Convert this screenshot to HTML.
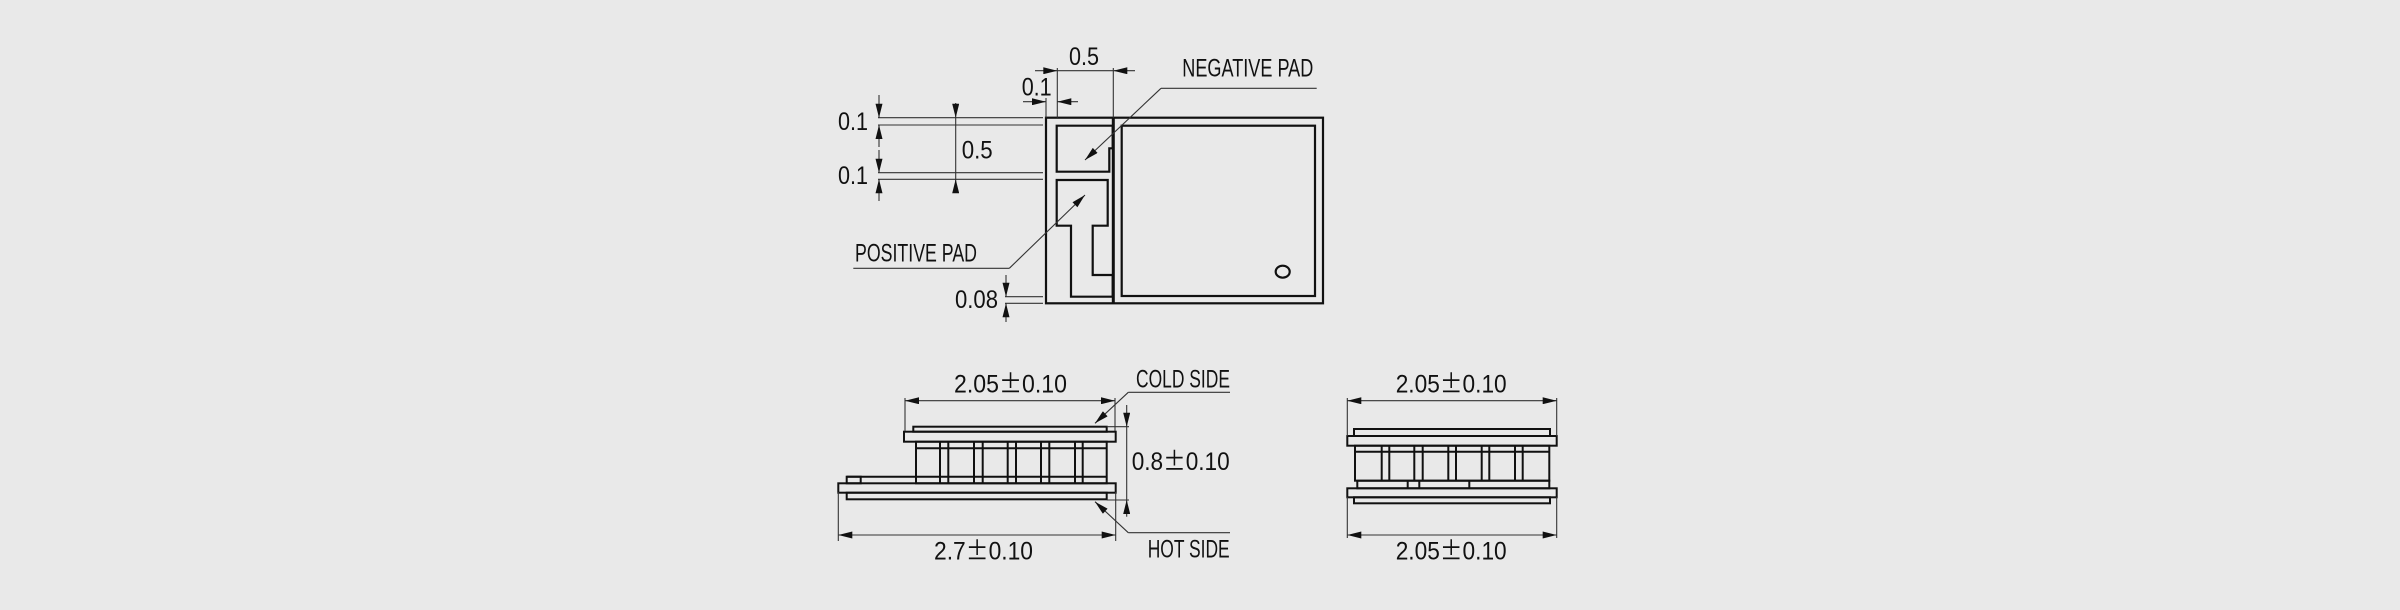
<!DOCTYPE html>
<html><head><meta charset="utf-8"><style>
html,body{margin:0;padding:0;background:#e9e9e9;}
svg{display:block;}
text{font-family:"Liberation Sans",sans-serif;font-size:25px;fill:#111;}
.pm{font-family:"Noto Sans CJK SC",sans-serif;}
</style></head><body>
<svg width="2400" height="610" viewBox="0 0 2400 610" xmlns="http://www.w3.org/2000/svg">
<defs>
<marker id="a" viewBox="0 0 16 8" refX="16" refY="4" markerWidth="15" markerHeight="7" markerUnits="userSpaceOnUse" orient="auto">
<path d="M0,0 L16,4 L0,8 z" fill="#111"/></marker>
</defs>
<rect width="2400" height="610" fill="#e9e9e9"/>

<!-- TOP VIEW -->
<g fill="none" stroke="#111" stroke-width="2.2">
<rect x="1046" y="117.7" width="277" height="185.6"/>
<line x1="1113.3" y1="117.7" x2="1113.3" y2="303.3" stroke-width="3"/>
<rect x="1121.7" y="125.7" width="193.3" height="170.3"/>
<ellipse cx="1282.7" cy="271.7" rx="7" ry="6"/>
<polygon points="1056.7,125.7 1112.7,125.7 1112.7,148.3 1109.3,148.3 1109.3,171.7 1056.7,171.7"/>
<polygon points="1056.7,180 1107.7,180 1107.7,225.7 1092.7,225.7 1092.7,275 1112.7,275 1112.7,296.7 1071,296.7 1071,225.7 1056.7,225.7"/>
</g>
<g stroke="#333" stroke-width="1.1" fill="none">
<line x1="878" y1="117.7" x2="1043" y2="117.7"/>
<line x1="878" y1="125" x2="1043" y2="125"/>
<line x1="878" y1="172.7" x2="1043" y2="172.7"/>
<line x1="878" y1="179.3" x2="1043" y2="179.3"/>
<line x1="879" y1="95" x2="879" y2="117.7" marker-end="url(#a)"/>
<line x1="879" y1="147" x2="879" y2="125" marker-end="url(#a)"/>
<line x1="879" y1="150" x2="879" y2="172.7" marker-end="url(#a)"/>
<line x1="879" y1="201" x2="879" y2="179.3" marker-end="url(#a)"/>
<line x1="955.7" y1="103" x2="955.7" y2="117.7" marker-end="url(#a)"/>
<line x1="955.7" y1="117.7" x2="955.7" y2="179.3"/>
<line x1="955.7" y1="193" x2="955.7" y2="179.3" marker-end="url(#a)"/>
<line x1="1035" y1="70.7" x2="1057.3" y2="70.7" marker-end="url(#a)"/>
<line x1="1057.3" y1="70.7" x2="1113.3" y2="70.7"/>
<line x1="1135" y1="70.7" x2="1113.3" y2="70.7" marker-end="url(#a)"/>
<line x1="1057.3" y1="68" x2="1057.3" y2="117.7"/>
<line x1="1113.3" y1="68" x2="1113.3" y2="117.7"/>
<line x1="1023" y1="101.7" x2="1046" y2="101.7" marker-end="url(#a)"/>
<line x1="1078" y1="101.7" x2="1057.3" y2="101.7" marker-end="url(#a)"/>
<line x1="1046" y1="98" x2="1046" y2="117.7"/>
<line x1="1005" y1="296.7" x2="1043" y2="296.7"/>
<line x1="1005" y1="303.3" x2="1043" y2="303.3"/>
<line x1="1006" y1="275" x2="1006" y2="296.7" marker-end="url(#a)"/>
<line x1="1006" y1="322" x2="1006" y2="303.3" marker-end="url(#a)"/>
<polyline points="1316.7,88.3 1161,88.3"/>
<line x1="1161" y1="88.3" x2="1085" y2="160" marker-end="url(#a)"/>
<polyline points="853.3,268.3 1009.3,268.3"/>
<line x1="1009.3" y1="268.3" x2="1085" y2="195" marker-end="url(#a)"/>
</g>
<text x="838" y="130" textLength="30" lengthAdjust="spacingAndGlyphs">0.1</text>
<text x="838" y="184" textLength="30" lengthAdjust="spacingAndGlyphs">0.1</text>
<text x="961.7" y="158.3" textLength="31" lengthAdjust="spacingAndGlyphs">0.5</text>
<text x="1069" y="65" textLength="30" lengthAdjust="spacingAndGlyphs">0.5</text>
<text x="1021.7" y="95.7" textLength="30" lengthAdjust="spacingAndGlyphs">0.1</text>
<text x="1182.3" y="76.7" font-size="22" textLength="131" lengthAdjust="spacingAndGlyphs">NEGATIVE PAD</text>
<text x="855" y="261.7" font-size="22" textLength="122" lengthAdjust="spacingAndGlyphs">POSITIVE PAD</text>
<text x="955" y="308" textLength="43" lengthAdjust="spacingAndGlyphs">0.08</text>

<!-- SIDE VIEW LEFT -->
<g fill="none" stroke="#111" stroke-width="2">
<rect x="913.3" y="426.7" width="193.4" height="5"/>
<rect x="904" y="431.7" width="211.7" height="10"/>
<rect x="916" y="441.7" width="190.7" height="41.6"/>
<line x1="940" y1="441.7" x2="940" y2="483.3"/><line x1="948.3" y1="441.7" x2="948.3" y2="483.3"/>
<line x1="974" y1="441.7" x2="974" y2="483.3"/><line x1="982.7" y1="441.7" x2="982.7" y2="483.3"/>
<line x1="1007.7" y1="441.7" x2="1007.7" y2="483.3"/><line x1="1016" y1="441.7" x2="1016" y2="483.3"/>
<line x1="1041" y1="441.7" x2="1041" y2="483.3"/><line x1="1049.3" y1="441.7" x2="1049.3" y2="483.3"/>
<line x1="1075" y1="441.7" x2="1075" y2="483.3"/><line x1="1082.7" y1="441.7" x2="1082.7" y2="483.3"/>
<line x1="916" y1="448.3" x2="1106.7" y2="448.3"/>
<line x1="846.7" y1="476.7" x2="1106.7" y2="476.7"/>
<rect x="846.7" y="476.7" width="14" height="6.6"/>
<rect x="838.3" y="483.3" width="277.4" height="9.4"/>
<rect x="846.7" y="492.7" width="260" height="6.6"/>
</g>
<g stroke="#333" stroke-width="1.1" fill="none">
<line x1="905" y1="398" x2="905" y2="431"/>
<line x1="1115" y1="398" x2="1115" y2="431"/>
<line x1="1010" y1="400.7" x2="905" y2="400.7" marker-end="url(#a)"/>
<line x1="1010" y1="400.7" x2="1115" y2="400.7" marker-end="url(#a)"/>
<line x1="838.3" y1="492" x2="838.3" y2="541"/>
<line x1="1115.7" y1="492" x2="1115.7" y2="541"/>
<line x1="977" y1="535" x2="838.3" y2="535" marker-end="url(#a)"/>
<line x1="977" y1="535" x2="1115.7" y2="535" marker-end="url(#a)"/>
<line x1="1106.7" y1="426.7" x2="1129" y2="426.7"/>
<line x1="1106.7" y1="500" x2="1129" y2="500"/>
<line x1="1126.7" y1="405" x2="1126.7" y2="426.7" marker-end="url(#a)"/>
<line x1="1126.7" y1="426.7" x2="1126.7" y2="500"/>
<line x1="1126.7" y1="516.7" x2="1126.7" y2="500" marker-end="url(#a)"/>
<line x1="1230" y1="392.3" x2="1128.3" y2="392.3"/>
<line x1="1128.3" y1="392.3" x2="1095" y2="423.3" marker-end="url(#a)"/>
<line x1="1230" y1="532.7" x2="1128.3" y2="532.7"/>
<line x1="1128.3" y1="532.7" x2="1095" y2="501.7" marker-end="url(#a)"/>
</g>
<text x="954" y="392.3" textLength="113" lengthAdjust="spacingAndGlyphs">2.05<tspan class="pm">±</tspan>0.10</text>
<text x="934" y="559.3" textLength="99" lengthAdjust="spacingAndGlyphs">2.7<tspan class="pm">±</tspan>0.10</text>
<text x="1131.7" y="470" textLength="98" lengthAdjust="spacingAndGlyphs">0.8<tspan class="pm">±</tspan>0.10</text>
<text x="1136" y="387.3" font-size="22" textLength="94" lengthAdjust="spacingAndGlyphs">COLD SIDE</text>
<text x="1147.7" y="557.3" font-size="22" textLength="82" lengthAdjust="spacingAndGlyphs">HOT SIDE</text>

<!-- SIDE VIEW RIGHT -->
<g fill="none" stroke="#111" stroke-width="2">
<rect x="1354" y="429" width="196" height="7"/>
<rect x="1347.3" y="436" width="209.4" height="9.7"/>
<rect x="1355" y="445.7" width="194.3" height="35"/>
<line x1="1381.7" y1="445.7" x2="1381.7" y2="480.7"/><line x1="1389.3" y1="445.7" x2="1389.3" y2="480.7"/>
<line x1="1414.3" y1="445.7" x2="1414.3" y2="480.7"/><line x1="1422.7" y1="445.7" x2="1422.7" y2="480.7"/>
<line x1="1448.3" y1="445.7" x2="1448.3" y2="480.7"/><line x1="1456" y1="445.7" x2="1456" y2="480.7"/>
<line x1="1481.7" y1="445.7" x2="1481.7" y2="480.7"/><line x1="1489.3" y1="445.7" x2="1489.3" y2="480.7"/>
<line x1="1515" y1="445.7" x2="1515" y2="480.7"/><line x1="1522.7" y1="445.7" x2="1522.7" y2="480.7"/>
<line x1="1355" y1="451.7" x2="1549.3" y2="451.7"/>
<rect x="1357.3" y="480.7" width="192" height="7.6"/>
<line x1="1407.7" y1="480.7" x2="1407.7" y2="488.3"/>
<line x1="1419.3" y1="480.7" x2="1419.3" y2="488.3"/>
<line x1="1469.3" y1="480.7" x2="1469.3" y2="488.3"/>
<rect x="1347.3" y="488.3" width="209.4" height="9"/>
<rect x="1354" y="497.3" width="196" height="6"/>
</g>
<g stroke="#333" stroke-width="1.1" fill="none">
<line x1="1347.3" y1="398" x2="1347.3" y2="436"/>
<line x1="1556.7" y1="398" x2="1556.7" y2="436"/>
<line x1="1452" y1="400.7" x2="1347.3" y2="400.7" marker-end="url(#a)"/>
<line x1="1452" y1="400.7" x2="1556.7" y2="400.7" marker-end="url(#a)"/>
<line x1="1347.3" y1="497" x2="1347.3" y2="538"/>
<line x1="1556.7" y1="497" x2="1556.7" y2="538"/>
<line x1="1452" y1="535" x2="1347.3" y2="535" marker-end="url(#a)"/>
<line x1="1452" y1="535" x2="1556.7" y2="535" marker-end="url(#a)"/>
</g>
<text x="1395.7" y="392.3" textLength="111" lengthAdjust="spacingAndGlyphs">2.05<tspan class="pm">±</tspan>0.10</text>
<text x="1395.7" y="559.3" textLength="111" lengthAdjust="spacingAndGlyphs">2.05<tspan class="pm">±</tspan>0.10</text>
</svg>
</body></html>
